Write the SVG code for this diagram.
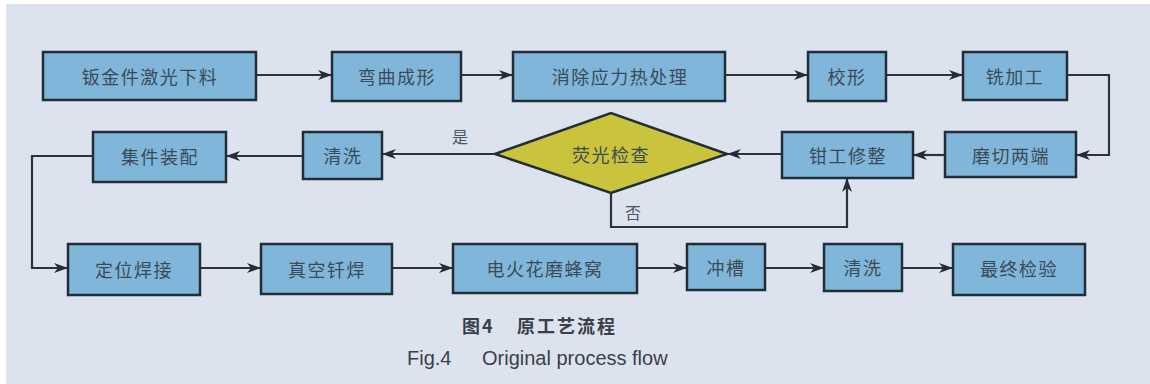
<svg xmlns="http://www.w3.org/2000/svg" width="1150" height="384" viewBox="0 0 1150 384">
<style>
.bg{fill:#dce3ef}
.box{fill:#80b6da;stroke:#222e36;stroke-width:2.5}
.dia{fill:#c9c43c;stroke:#222e36;stroke-width:2.5}
.t{font-family:"Noto Sans CJK SC",sans-serif;font-size:18px;fill:#3c4a56;text-anchor:middle;dominant-baseline:central;letter-spacing:1.5px}
.lbl{font-family:"Noto Sans CJK SC",sans-serif;font-size:16px;fill:#4a5560;text-anchor:middle;dominant-baseline:central}
.cn{font-family:"Noto Sans CJK SC",sans-serif;font-size:18px;font-weight:bold;fill:#3a3f48;letter-spacing:2px}
.en{font-family:"Liberation Sans",Arial,sans-serif;font-size:20px;fill:#3a3f48}
.ln{fill:none;stroke:#2a343a;stroke-width:2.2}
</style>
<defs>
<marker id="ah" viewBox="0 0 14 10" refX="13" refY="5" markerWidth="14" markerHeight="10" markerUnits="userSpaceOnUse" orient="auto">
<path d="M0,0 L14,5 L0,10 L4,5 Z" fill="#222e36"/>
</marker>
</defs>
<rect x="0" y="0" width="1150" height="384" fill="#ffffff"/>
<rect class="bg" x="6" y="4" width="1144" height="380"/>

<g id="connectors">
<path class="ln" d="M256,75 H331" marker-end="url(#ah)"/>
<path class="ln" d="M461,75 H512" marker-end="url(#ah)"/>
<path class="ln" d="M725,75 H807" marker-end="url(#ah)"/>
<path class="ln" d="M886,75 H962" marker-end="url(#ah)"/>
<path class="ln" d="M1067,75 H1109 V155 H1077" marker-end="url(#ah)"/>
<path class="ln" d="M945,155 H914" marker-end="url(#ah)"/>
<path class="ln" d="M782,154 H728" marker-end="url(#ah)"/>
<path class="ln" d="M495,154 H383" marker-end="url(#ah)"/>
<path class="ln" d="M303,156 H227" marker-end="url(#ah)"/>
<path class="ln" d="M611,193 V227 H847 V179" marker-end="url(#ah)"/>
<path class="ln" d="M93,156 H32 V268 H67" marker-end="url(#ah)"/>
<path class="ln" d="M200,268 H260" marker-end="url(#ah)"/>
<path class="ln" d="M392,268 H452" marker-end="url(#ah)"/>
<path class="ln" d="M637,268 H686" marker-end="url(#ah)"/>
<path class="ln" d="M765,268 H823" marker-end="url(#ah)"/>
<path class="ln" d="M902,268 H952" marker-end="url(#ah)"/>
<text class="lbl" x="460" y="136">是</text>
<text class="lbl" x="633" y="212">否</text>
</g>

<g id="n1"><rect class="box" x="43" y="52" width="213" height="48"/><text class="t" x="150" y="76">钣金件激光下料</text></g>
<g id="n2"><rect class="box" x="332" y="52" width="129" height="49"/><text class="t" x="397" y="76">弯曲成形</text></g>
<g id="n3"><rect class="box" x="513" y="52" width="212" height="49"/><text class="t" x="620" y="76">消除应力热处理</text></g>
<g id="n4"><rect class="box" x="808" y="52" width="78" height="49"/><text class="t" x="847" y="76">校形</text></g>
<g id="n5"><rect class="box" x="963" y="52" width="104" height="48"/><text class="t" x="1015" y="76">铣加工</text></g>
<g id="n6"><rect class="box" x="945" y="132" width="131" height="45"/><text class="t" x="1011" y="155">磨切两端</text></g>
<g id="n7"><rect class="box" x="782" y="132" width="131" height="46"/><text class="t" x="848" y="155">钳工修整</text></g>
<g id="n8"><polygon class="dia" points="495,154 611,113 727,154 611,193"/><text class="t" x="611" y="154">荧光检查</text></g>
<g id="n9"><rect class="box" x="303" y="132" width="79" height="47"/><text class="t" x="343" y="155">清洗</text></g>
<g id="n10"><rect class="box" x="93" y="132" width="133" height="50"/><text class="t" x="160" y="156">集件装配</text></g>
<g id="n11"><rect class="box" x="68" y="244" width="132" height="51"/><text class="t" x="134" y="269">定位焊接</text></g>
<g id="n12"><rect class="box" x="261" y="244" width="131" height="50"/><text class="t" x="327" y="269">真空钎焊</text></g>
<g id="n13"><rect class="box" x="453" y="244" width="184" height="49"/><text class="t" x="545" y="268">电火花磨蜂窝</text></g>
<g id="n14"><rect class="box" x="687" y="244" width="78" height="46"/><text class="t" x="726" y="267">冲槽</text></g>
<g id="n15"><rect class="box" x="824" y="244" width="78" height="47"/><text class="t" x="863" y="267">清洗</text></g>
<g id="n16"><rect class="box" x="953" y="244" width="132" height="51"/><text class="t" x="1019" y="268">最终检验</text></g>

<g id="caption">
<text class="cn" x="462" y="333">图4</text>
<text class="cn" x="517" y="333">原工艺流程</text>
<text class="en" x="407" y="365">Fig.4</text>
<text class="en" x="482" y="365">Original process flow</text>
</g>
</svg>
